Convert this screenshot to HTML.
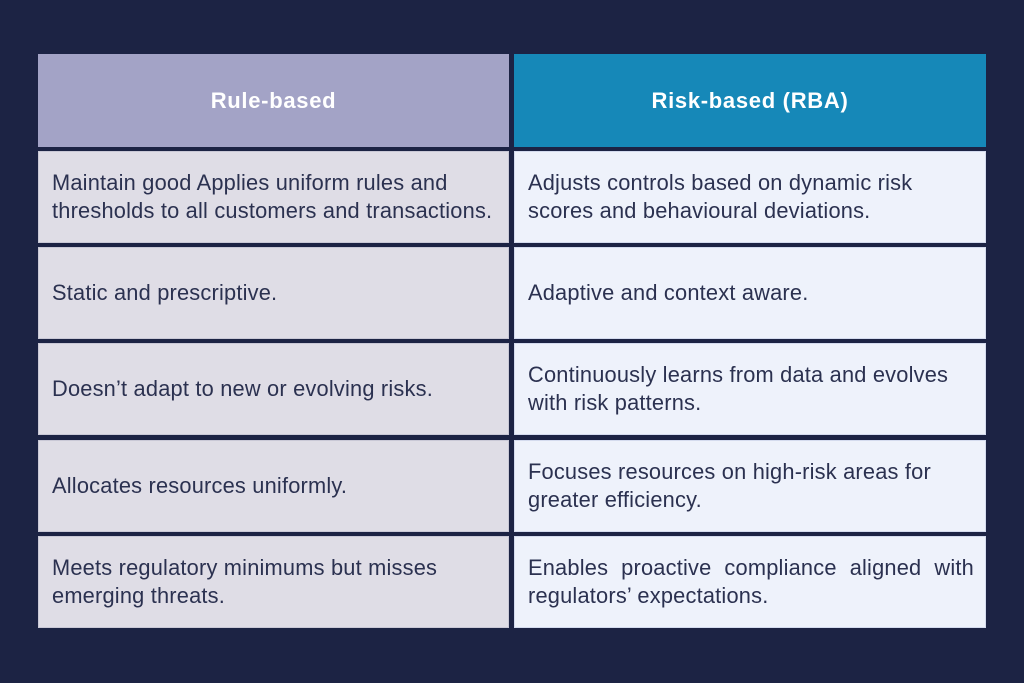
<!DOCTYPE html>
<html><head><style>
html,body{margin:0;padding:0}
body{width:1024px;height:683px;background:#1c2344;position:relative;overflow:hidden;font-family:"Liberation Sans",sans-serif}
.c{position:absolute;box-sizing:border-box;display:flex;align-items:center;padding:0 13px;font-size:21.8px;line-height:28px;color:#2b3150;letter-spacing:0.2px;white-space:nowrap}
.h{justify-content:center;color:#fff;font-weight:bold;font-size:22px;padding:0;letter-spacing:0.7px}
.l{left:38px;width:471px;background:#dfdde6;border:1px solid #c9c8d6}
.r{left:514px;width:472px;background:#eef2fb;border:1px solid #d4dbee}
.j{display:flex;justify-content:space-between;width:446px}
</style></head><body>
<div class="c h" style="left:38px;top:54px;width:471px;height:93px;background:#a3a3c6">Rule-based</div>
<div class="c h" style="left:514px;top:54px;width:472px;height:93px;background:#1688b8">Risk-based (RBA)</div>

<div class="c l" style="top:151px;height:92px"><div>Maintain good Applies uniform rules and<br>thresholds to all customers and transactions.</div></div>
<div class="c r" style="top:151px;height:92px"><div>Adjusts controls based on dynamic risk<br>scores and behavioural deviations.</div></div>

<div class="c l" style="top:247px;height:92px">Static and prescriptive.</div>
<div class="c r" style="top:247px;height:92px">Adaptive and context aware.</div>

<div class="c l" style="top:343px;height:92px">Doesn’t adapt to new or evolving risks.</div>
<div class="c r" style="top:343px;height:92px"><div>Continuously learns from data and evolves<br>with risk patterns.</div></div>

<div class="c l" style="top:440px;height:92px">Allocates resources uniformly.</div>
<div class="c r" style="top:440px;height:92px"><div>Focuses resources on high-risk areas for<br>greater efficiency.</div></div>

<div class="c l" style="top:536px;height:92px"><div>Meets regulatory minimums but misses<br>emerging threats.</div></div>
<div class="c r" style="top:536px;height:92px"><div><div class="j"><span>Enables</span><span>proactive</span><span>compliance</span><span>aligned</span><span>with</span></div>regulators’ expectations.</div></div>
</body></html>
